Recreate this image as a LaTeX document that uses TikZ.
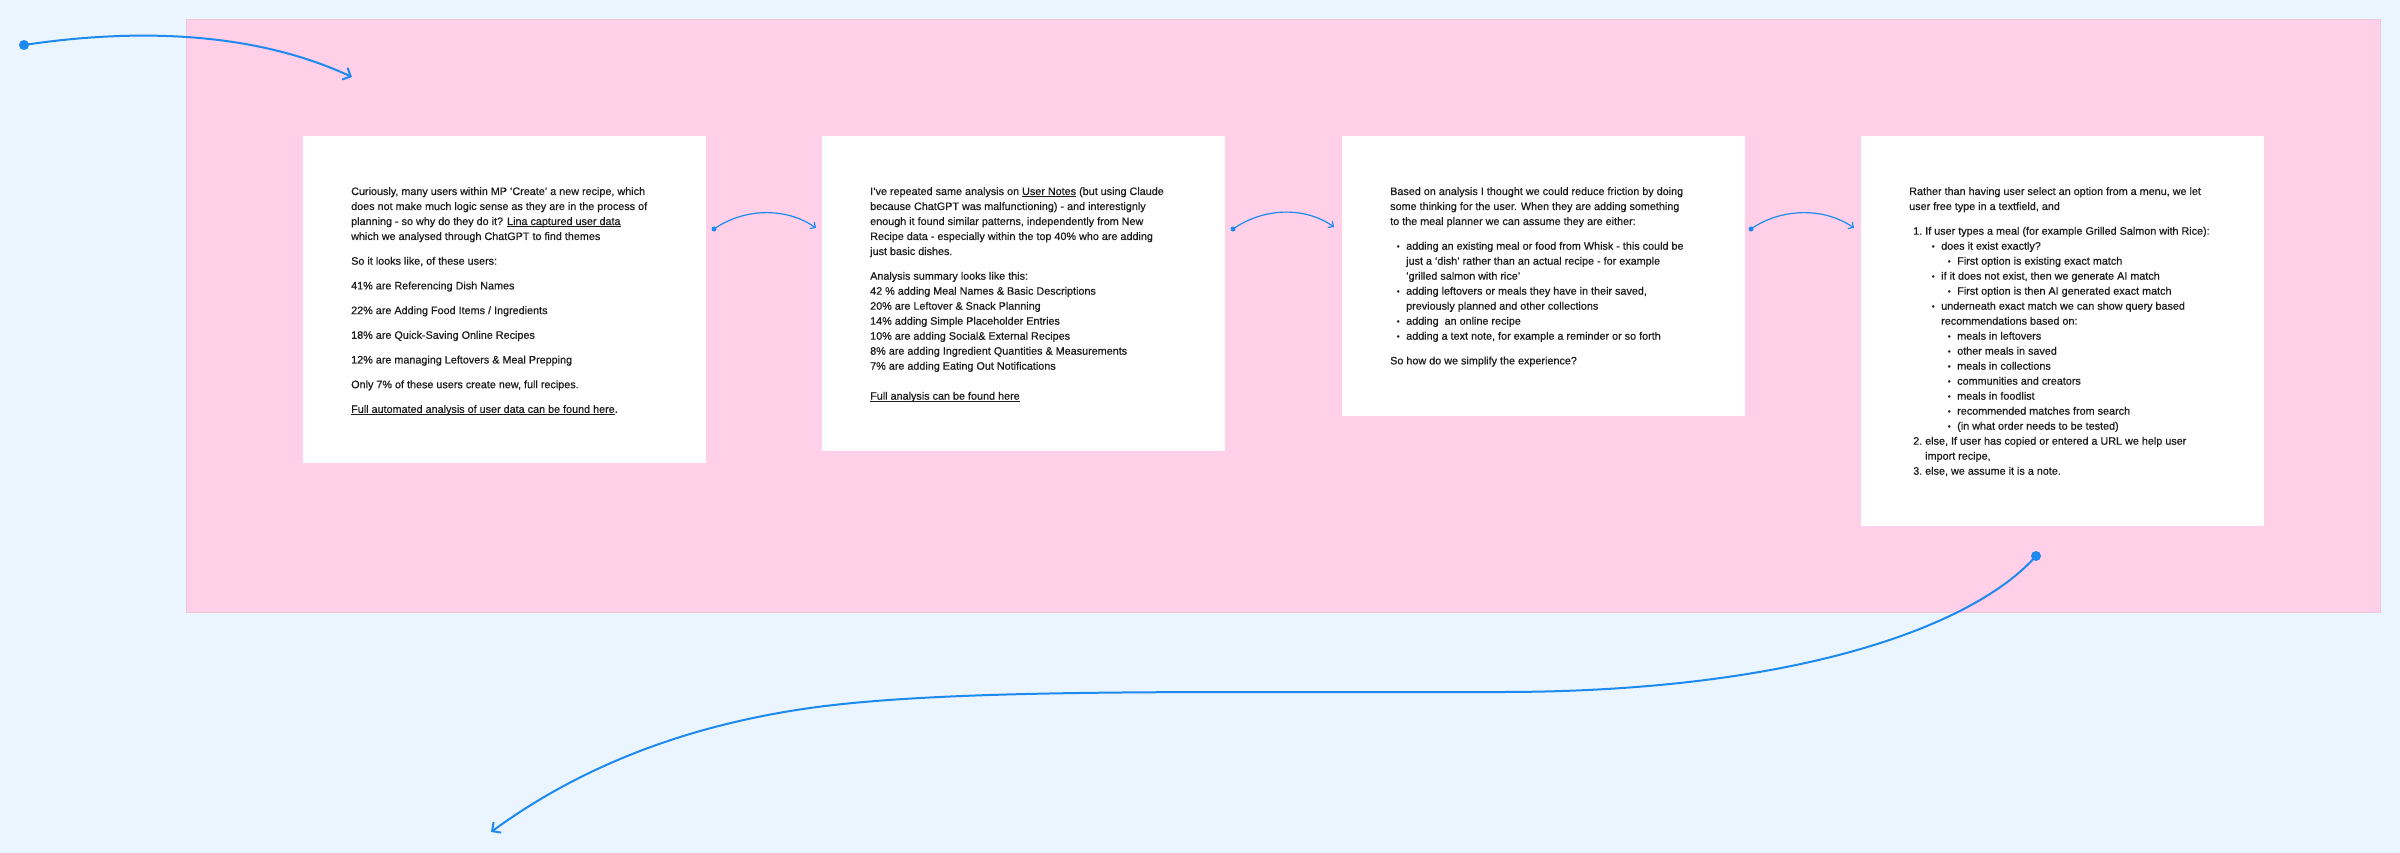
\documentclass[tikz,border=0pt]{standalone}
\usepackage{fontspec}
\setmainfont{Liberation Sans}[FakeBold=0.5]
\usetikzlibrary{arrows.meta}
\definecolor{bgblue}{HTML}{EAF5FF}
\definecolor{pinkbg}{HTML}{FFD0E7}
\definecolor{pinkedge}{HTML}{F5C3DA}
\definecolor{linkblue}{HTML}{1E8AF0}
\definecolor{ink}{HTML}{1C1C1C}
\newsavebox\undlbox
\newcommand\undl[1]{\leavevmode\sbox\undlbox{#1}\rlap{\rule[-1.9pt]{\wd\undlbox}{0.7pt}}\usebox\undlbox}
\newcommand\bul{\raisebox{0.6pt}{\fontsize{8}{8}\selectfont •}}
\newcommand\itm[3]{\hspace*{#1pt}\makebox[0pt]{#2}\hspace*{\dimexpr #3pt - #1pt\relax}}
\newcommand\itmL[3]{\hspace*{#1pt}\makebox[0pt][l]{#2}\hspace*{\dimexpr #3pt - #1pt\relax}}
\newcommand\cardtext[1]{\begin{minipage}[t]{350pt}\fontsize{10.8}{15}\selectfont\raggedright\setlength{\parskip}{9.7pt}\setlength{\parindent}{0pt}#1\end{minipage}}
\begin{document}
\begin{tikzpicture}[x=1pt,y=-1pt,
  card/.style={fill=white, draw=none, minimum width=403pt, anchor=north west, inner sep=0pt, outer sep=0pt},
  txt/.style={anchor=base west, inner sep=0pt, text=ink},
  link/.style={draw=linkblue, line width=2pt, line cap=round, -{Straight Barb[length=6.5pt,width=13pt]}},
  minilink/.style={draw=linkblue, line width=1.2pt, line cap=round, -{Straight Barb[length=4pt,width=8pt]}},
  dotbig/.style={circle, fill=linkblue, inner sep=0pt, minimum size=10pt},
  dotsmall/.style={circle, fill=linkblue, inner sep=0pt, minimum size=5pt}]
\useasboundingbox (0,0) rectangle (2400,853);
\fill[bgblue] (0,0) rectangle (2400,853);
\node[draw=pinkedge, fill=pinkbg, line width=0.8pt, anchor=north west, minimum width=2194pt, minimum height=593pt, inner sep=0pt] (frame) at (186,19) {};
% cards
\node[card, minimum height=327pt] (c1) at (303,136) {};
\node[card, minimum height=315pt] (c2) at (822,136) {};
\node[card, minimum height=280pt] (c3) at (1342,136) {};
\node[card, minimum height=390pt] (c4) at (1861,136) {};
% texts
\node[txt] (t1) at (351,195) {\cardtext{%
Curiously, many users within MP ‘Create’ a new recipe, which\\
does not make much logic sense as they are in the process of\\
planning - so why do they do it? \undl{Lina captured user data}\\
which we analysed through ChatGPT to find themes\par
So it looks like, of these users:\par
41\% are Referencing Dish Names\par
22\% are Adding Food Items / Ingredients\par
18\% are Quick-Saving Online Recipes\par
12\% are managing Leftovers \& Meal Prepping\par
Only 7\% of these users create new, full recipes.\par
\undl{Full automated analysis of user data can be found here}.}};
\node[txt] (t2) at (870,195) {\cardtext{%
I’ve repeated same analysis on \undl{User Notes} (but using Claude\\
because ChatGPT was malfunctioning) - and interestignly\\
enough it found similar patterns, independently from New\\
Recipe data - especially within the top 40\% who are adding\\
just basic dishes.\par
Analysis summary looks like this:\\
42 \% adding Meal Names \& Basic Descriptions\\
20\% are Leftover \& Snack Planning\\
14\% adding Simple Placeholder Entries\\
10\% are adding Social\& External Recipes\\
8\% are adding Ingredient Quantities \& Measurements\\
7\% are adding Eating Out Notifications\\[15pt]
\undl{Full analysis can be found here}}};
\node[txt] (t3) at (1390,195) {\cardtext{%
Based on analysis I thought we could reduce friction by doing\\
some thinking for the user. When they are adding something\\
to the meal planner we can assume they are either:\par
\itm{8}{\bul}{16}adding an existing meal or food from Whisk - this could be\\
\hspace*{16pt}just a ‘dish’ rather than an actual recipe - for example\\
\hspace*{16pt}‘grilled salmon with rice’\\
\itm{8}{\bul}{16}adding leftovers or meals they have in their saved,\\
\hspace*{16pt}previously planned and other collections\\
\itm{8}{\bul}{16}adding~ an online recipe\\
\itm{8}{\bul}{16}adding a text note, for example a reminder or so forth\par
So how do we simplify the experience?}};
\node[txt] (t4) at (1909,195) {\cardtext{%
Rather than having user select an option from a menu, we let\\
user free type in a textfield, and\par
\itmL{4}{1.}{16}If user types a meal (for example Grilled Salmon with Rice):\\
\itm{24}{\bul}{32}does it exist exactly?\\
\itm{40}{\bul}{48}First option is existing exact match\\
\itm{24}{\bul}{32}if it does not exist, then we generate AI match\\
\itm{40}{\bul}{48}First option is then AI generated exact match\\
\itm{24}{\bul}{32}underneath exact match we can show query based\\
\hspace*{32pt}recommendations based on:\\
\itm{40}{\bul}{48}meals in leftovers\\
\itm{40}{\bul}{48}other meals in saved\\
\itm{40}{\bul}{48}meals in collections\\
\itm{40}{\bul}{48}communities and creators\\
\itm{40}{\bul}{48}meals in foodlist\\
\itm{40}{\bul}{48}recommended matches from search\\
\itm{40}{\bul}{48}(in what order needs to be tested)\\
\itmL{4}{2.}{16}else, If user has copied or entered a URL we help user\\
\hspace*{16pt}import recipe,\\
\itmL{4}{3.}{16}else, we assume it is a note.}};
% small connectors between cards
\node[dotsmall] (d1) at (714,229) {};
\coordinate (e1) at (816,228);
\draw[minilink] (d1.center) .. controls +(30,-21) and +(-30,-21) .. (e1);
\node[dotsmall] (d2) at (1233,229) {};
\coordinate (e2) at (1334,227);
\draw[minilink] (d2.center) .. controls +(30,-21) and +(-30,-21) .. (e2);
\node[dotsmall] (d3) at (1751,229) {};
\coordinate (e3) at (1854,228);
\draw[minilink] (d3.center) .. controls +(30,-21) and +(-30,-21) .. (e3);
% big connectors
\node[dotbig] (s0) at (24,45) {};
\coordinate (f0) at (352,77);
\draw[link] (s0.center) .. controls (110,32) and (240,25) .. (f0);
\node[dotbig] (s1) at (2036,556) {};
\coordinate (f1) at (491,832);
\draw[link] (s1.center) .. controls (1975,625) and (1800,692) .. (1500,692) -- (1250,692) .. controls (1050,692) and (900,694.5) .. (803,709) .. controls (683,727) and (580,767) .. (f1);
\end{tikzpicture}
\end{document}
